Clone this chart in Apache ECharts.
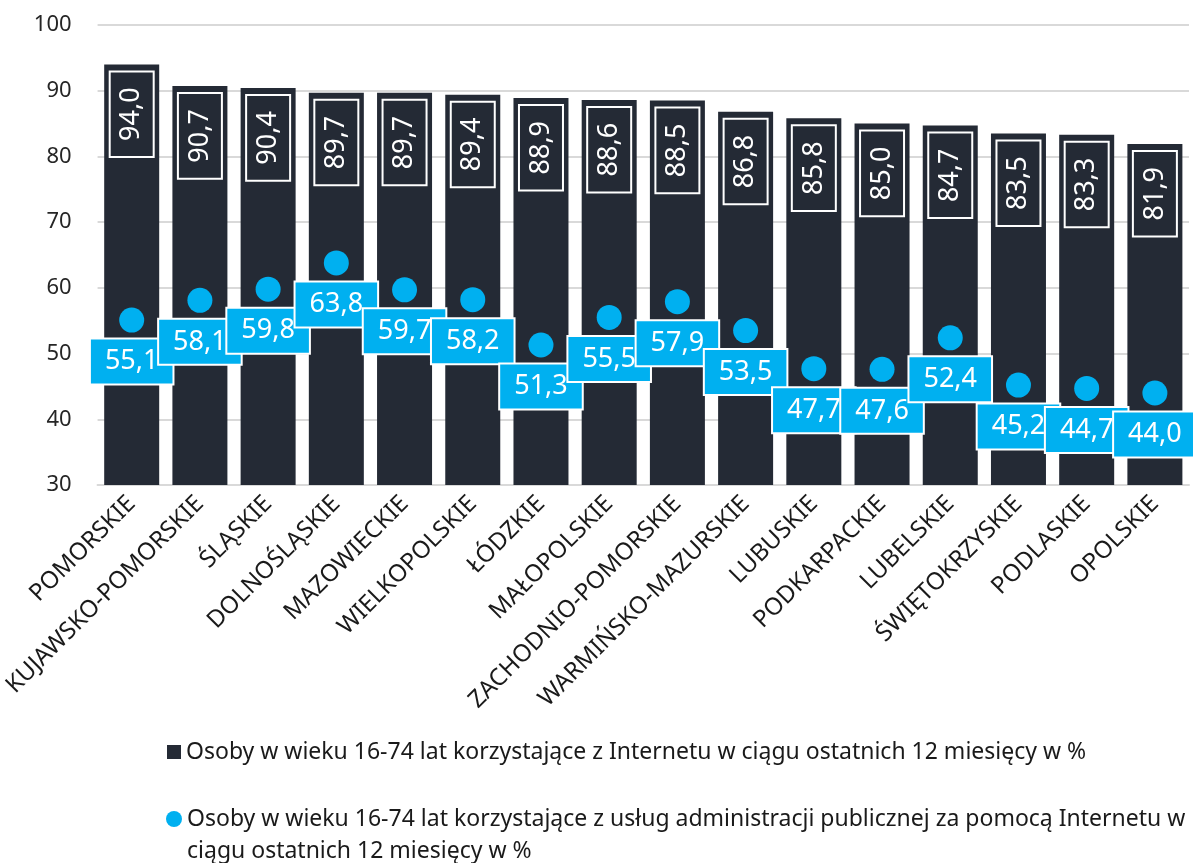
<!DOCTYPE html>
<html>
<head>
<meta charset="utf-8">
<script src="https://cdn.jsdelivr.net/npm/echarts@6/dist/echarts.min.js"></script>
<style>
html,body{margin:0;padding:0;background:#fff;}
#chart{width:1193px;height:863px;}
</style>
</head>
<body>
<div id="chart"></div>
<script>
const categories = ['POMORSKIE','KUJAWSKO-POMORSKIE','ŚLĄSKIE','DOLNOŚLĄSKIE','MAZOWIECKIE','WIELKOPOLSKIE','ŁÓDZKIE','MAŁOPOLSKIE','ZACHODNIO-POMORSKIE','WARMIŃSKO-MAZURSKIE','LUBUSKIE','PODKARPACKIE','LUBELSKIE','ŚWIĘTOKRZYSKIE','PODLASKIE','OPOLSKIE'];
const internetUsers = [94.0, 90.7, 90.4, 89.7, 89.7, 89.4, 88.9, 88.6, 88.5, 86.8, 85.8, 85.0, 84.7, 83.5, 83.3, 81.9];
const adminUsers = [55.1, 58.1, 59.8, 63.8, 59.7, 58.2, 51.3, 55.5, 57.9, 53.5, 47.7, 47.6, 52.4, 45.2, 44.7, 44.0];
const seriesNames = [
  'Osoby w wieku 16-74 lat korzystające z Internetu w ciągu ostatnich 12 miesięcy w %',
  'Osoby w wieku 16-74 lat korzystające z usług administracji publicznej za pomocą Internetu w ciągu ostatnich 12 miesięcy w %'
];
const yTicks = {min: 30, max: 100, interval: 10};

const FONT = 'Noto Sans';
const fmt = v => v.toFixed(1).replace('.', ',');
const legendText = {fontSize: 23, color: '#1a1a1a', fontFamily: FONT, lineHeight: 32};

const chart = echarts.init(document.getElementById('chart'), null, {renderer: 'canvas'});
chart.setOption({
  backgroundColor: '#ffffff',
  animation: false,
  textStyle: {fontFamily: FONT},
  grid: {left: 93, right: 4, top: 25, bottom: 378, containLabel: false},
  xAxis: {
    type: 'category',
    data: categories,
    axisLine: {show: true, lineStyle: {color: '#d9d9d9', width: 2}},
    axisTick: {show: false},
    axisLabel: {rotate: 45, fontSize: 24, color: '#1a1a1a', fontFamily: FONT, margin: 15, interval: 0}
  },
  yAxis: {
    type: 'value',
    min: yTicks.min, max: yTicks.max, interval: yTicks.interval,
    axisLine: {show: false},
    axisTick: {show: false},
    axisLabel: {fontSize: 22, color: '#262626', fontFamily: FONT, margin: 26},
    splitLine: {lineStyle: {color: '#d9d9d9', width: 2}}
  },
  legend: [
    {
      orient: 'vertical',
      left: 162,
      top: 731,
      itemWidth: 14,
      itemHeight: 14,
      textStyle: legendText,
      data: [{name: seriesNames[0], icon: 'rect', itemStyle: {color: '#242a35'}}]
    },
    {
      orient: 'vertical',
      left: 161,
      top: 766,
      height: 100,
      itemWidth: 16,
      itemHeight: 16,
      textStyle: legendText,
      data: [{name: seriesNames[1], icon: 'circle', itemStyle: {color: '#00b0f0'}}],
      formatter: function (name) {
        const cut = name.indexOf(' ciągu');
        return '\n' + name.slice(0, cut) + '\n' + name.slice(cut + 1);
      }
    }
  ],
  series: [
    {
      name: seriesNames[0],
      type: 'bar',
      data: internetUsers,
      barWidth: 55,
      itemStyle: {color: '#242a35'},
      label: {
        show: true,
        position: 'insideTop',
        distance: 7,
        rotate: 90,
        align: 'right',
        verticalAlign: 'middle',
        formatter: p => fmt(p.value),
        color: '#ffffff',
        fontSize: 27,
        fontFamily: FONT,
        lineHeight: 28,
        padding: [8, 16, 8, 16],
        borderColor: '#ffffff',
        borderWidth: 2
      },
      z: 2
    },
    {
      name: seriesNames[1],
      type: 'scatter',
      data: adminUsers,
      symbol: 'circle',
      symbolSize: 25,
      itemStyle: {color: '#00b0f0', opacity: 1},
      label: {
        show: true,
        position: 'bottom',
        distance: 7,
        formatter: p => fmt(p.value),
        color: '#ffffff',
        fontSize: 27,
        fontFamily: FONT,
        lineHeight: 28,
        backgroundColor: '#00b0f0',
        borderColor: '#ffffff',
        borderWidth: 2,
        padding: [8, 14, 8, 14]
      },
      z: 3
    }
  ]
});
</script>
</body>
</html>
